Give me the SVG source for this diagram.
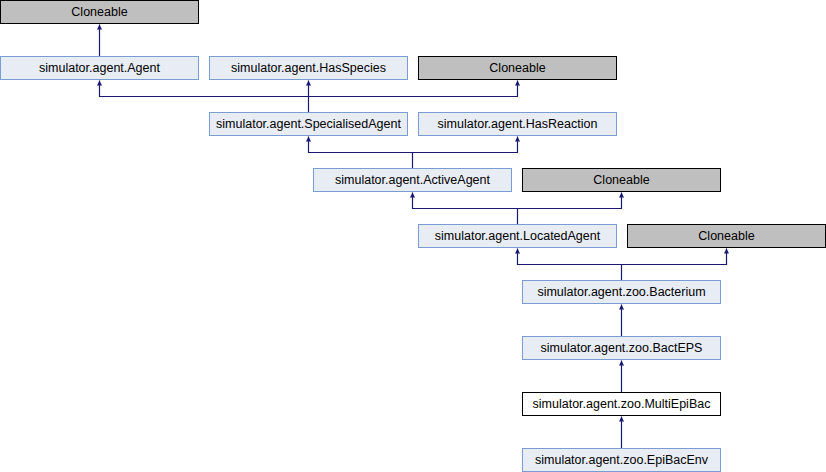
<svg xmlns="http://www.w3.org/2000/svg" width="826" height="472" viewBox="0 0 826 472">
<defs>
<marker id="ah" viewBox="0 0 10 10" refX="10" refY="5" markerWidth="6" markerHeight="5" markerUnits="userSpaceOnUse" orient="auto">
<path d="M0,0 L10,5 L0,10 z" fill="#191970"/>
</marker>
<style>
.n rect{fill:#e8ecf5;stroke:#7b9bd3;stroke-width:1}
.g rect{fill:#bfbfbf;stroke:#000;stroke-width:1}
.w rect{fill:#fff;stroke:#000;stroke-width:1}
text{font-family:"Liberation Sans",Arial,sans-serif;font-size:12.5px;fill:#000;text-anchor:middle}
.e path{fill:none;stroke:#191970;stroke-width:1.2}
</style>
</defs>
<rect width="826" height="472" fill="#fff"/>
<g class="e" id="connectors">
<path d="M99.5,56.5 V24.5" marker-end="url(#ah)"/>
<path d="M308.5,96.5 H99.5 V80.5" marker-end="url(#ah)"/>
<path d="M308.5,112.5 V80.5" marker-end="url(#ah)"/>
<path d="M308.5,96.5 H517.5 V80.5" marker-end="url(#ah)"/>
<path d="M412.5,152.5 H308.5 V136.5" marker-end="url(#ah)"/>
<path d="M412.5,168.5 V152.5 H517.5 V136.5" marker-end="url(#ah)"/>
<path d="M517.5,208.5 H412.5 V192.5" marker-end="url(#ah)"/>
<path d="M517.5,224.5 V208.5 H621.5 V192.5" marker-end="url(#ah)"/>
<path d="M621.5,264.5 H517.5 V248.5" marker-end="url(#ah)"/>
<path d="M621.5,280.5 V264.5 H726.5 V248.5" marker-end="url(#ah)"/>
<path d="M621.5,336.5 V304.5" marker-end="url(#ah)"/>
<path d="M621.5,392.5 V360.5" marker-end="url(#ah)"/>
<path d="M621.5,448.5 V416.5" marker-end="url(#ah)"/>
</g>
<g id="cloneable1" class="g"><rect x="0.5" y="0.5" width="198" height="23"/><text x="99.5" y="16">Cloneable</text></g>
<g id="agent" class="n"><rect x="0.5" y="56.5" width="198" height="23"/><text x="99.5" y="72">simulator.agent.Agent</text></g>
<g id="hasspecies" class="n"><rect x="209.5" y="56.5" width="198" height="23"/><text x="308.5" y="72">simulator.agent.HasSpecies</text></g>
<g id="cloneable2" class="g"><rect x="418.5" y="56.5" width="198" height="23"/><text x="517.5" y="72">Cloneable</text></g>
<g id="specialisedagent" class="n"><rect x="209.5" y="112.5" width="198" height="23"/><text x="308.5" y="128">simulator.agent.SpecialisedAgent</text></g>
<g id="hasreaction" class="n"><rect x="418.5" y="112.5" width="198" height="23"/><text x="517.5" y="128">simulator.agent.HasReaction</text></g>
<g id="activeagent" class="n"><rect x="313.5" y="168.5" width="198" height="23"/><text x="412.5" y="184">simulator.agent.ActiveAgent</text></g>
<g id="cloneable3" class="g"><rect x="522.5" y="168.5" width="198" height="23"/><text x="621.5" y="184">Cloneable</text></g>
<g id="locatedagent" class="n"><rect x="418.5" y="224.5" width="198" height="23"/><text x="517.5" y="240">simulator.agent.LocatedAgent</text></g>
<g id="cloneable4" class="g"><rect x="627.5" y="224.5" width="198" height="23"/><text x="726.5" y="240">Cloneable</text></g>
<g id="bacterium" class="n"><rect x="522.5" y="280.5" width="198" height="23"/><text x="621.5" y="296">simulator.agent.zoo.Bacterium</text></g>
<g id="bacteps" class="n"><rect x="522.5" y="336.5" width="198" height="23"/><text x="621.5" y="352">simulator.agent.zoo.BactEPS</text></g>
<g id="multiepibac" class="w"><rect x="522.5" y="392.5" width="198" height="23"/><text x="621.5" y="408">simulator.agent.zoo.MultiEpiBac</text></g>
<g id="epibacenv" class="n"><rect x="522.5" y="448.5" width="198" height="23"/><text x="621.5" y="464">simulator.agent.zoo.EpiBacEnv</text></g>
</svg>
